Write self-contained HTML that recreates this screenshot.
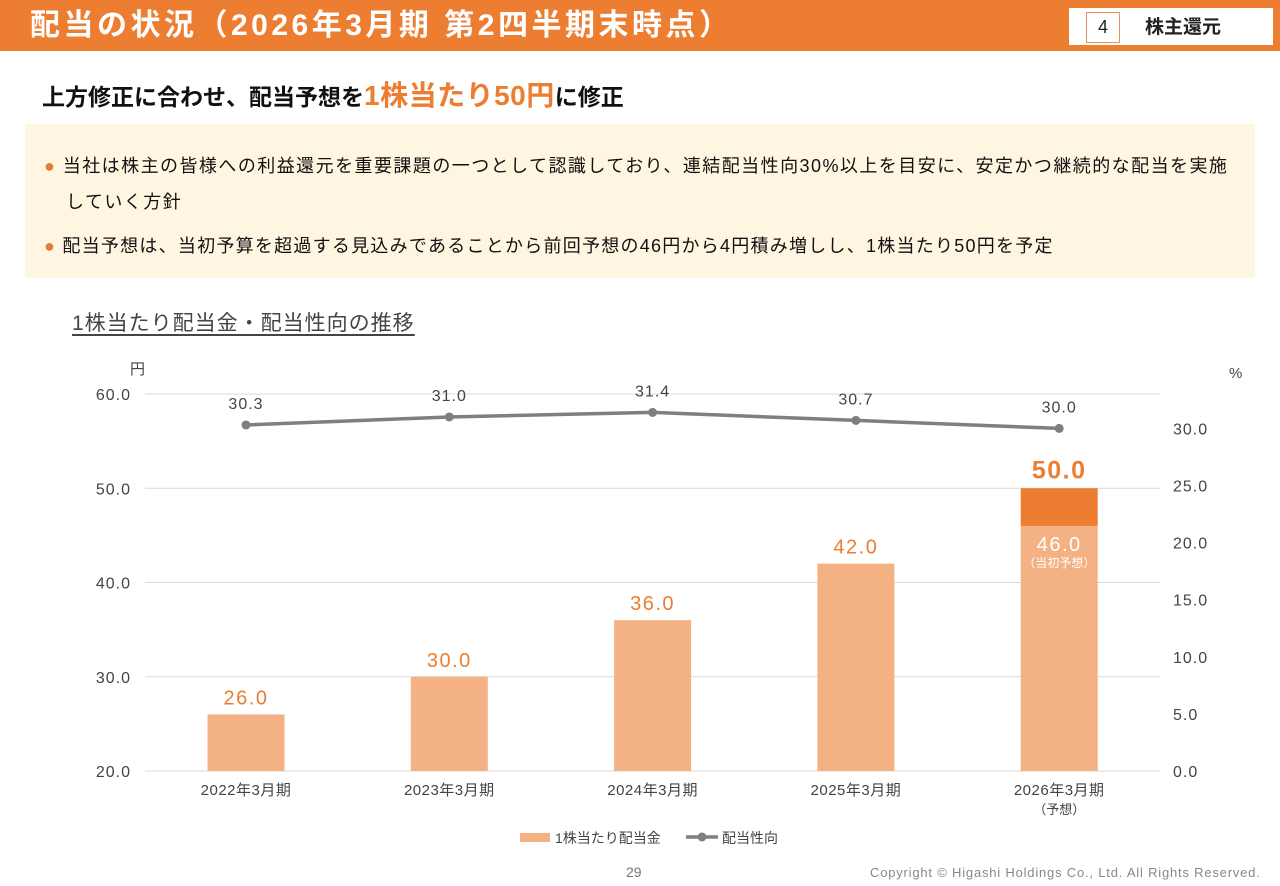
<!DOCTYPE html>
<html><head><meta charset="utf-8"><style>
body{margin:0;width:1280px;height:886px;background:#fff;font-family:"Liberation Sans","Noto Sans CJK JP",sans-serif;position:relative;overflow:hidden}
.abs{position:absolute}
</style></head><body>
<div class="abs" style="left:0;top:0;width:1280px;height:51px;background:#ed7d31"></div>
<div class="abs" style="left:30px;top:6px;color:#fff;font-size:30px;font-weight:bold;line-height:40px;letter-spacing:3.5px">配当の状況（2026年3月期 第2四半期末時点）</div>
<div class="abs" style="left:1069px;top:8px;width:204px;height:37px;background:#fff"></div>
<div class="abs" style="left:1086px;top:12px;width:32px;height:29px;border:1px solid #e69060;font-size:18px;text-align:center;line-height:29px;color:#222">4</div>
<div class="abs" style="left:1145px;top:14px;font-size:19px;font-weight:bold;color:#222;line-height:28px">株主還元</div>
<div class="abs" style="left:42px;top:78px;font-size:23px;font-weight:bold;color:#111;line-height:36px">上方修正に合わせ、配当予想を<span style="color:#ed7d31;font-size:28px;letter-spacing:0.5px">1株当たり50円</span>に修正</div>
<div class="abs" style="left:25px;top:124px;width:1230px;height:154px;background:#fff6e2"></div>
<div class="abs" style="left:44px;top:148px;width:1200px;font-size:18px;line-height:36px;color:#111;letter-spacing:1.45px;white-space:nowrap"><span style="color:#e07b39;font-size:18px">●</span> 当社は株主の皆様への利益還元を重要課題の一つとして認識しており、連結配当性向30%以上を目安に、安定かつ継続的な配当を実施<br><span style="padding-left:22px">していく方針</span></div>
<div class="abs" style="left:44px;top:228px;font-size:18px;line-height:36px;color:#111;letter-spacing:1.25px;white-space:nowrap"><span style="color:#e07b39;font-size:18px">●</span> 配当予想は、当初予算を超過する見込みであることから前回予想の46円から4円積み増しし、1株当たり50円を予定</div>
<div class="abs" style="left:72px;top:310px;font-size:21px;color:#444;text-decoration:underline;text-underline-offset:4px;line-height:28px;letter-spacing:1px">1株当たり配当金・配当性向の推移</div>
<svg class="abs" style="left:0;top:0" width="1280" height="886" id="chart"></svg>
<div class="abs" style="left:626px;top:864px;font-size:14px;color:#777">29</div>
<div class="abs" style="left:870px;top:865px;font-size:13px;color:#888;letter-spacing:0.8px">Copyright © Higashi Holdings Co., Ltd. All Rights Reserved.</div>
<script>
const categories=["2022年3月期","2023年3月期","2024年3月期","2025年3月期","2026年3月期"];
const dividends=[26.0,30.0,36.0,42.0,46.0];
const dividendExtra=[0,0,0,0,4.0];
const payoutRatio=[30.3,31.0,31.4,30.7,30.0];
const leftTicks=[20,30,40,50,60];
const rightTicks=[0,5,10,15,20,25,30];
const NS="http://www.w3.org/2000/svg";
const svg=document.getElementById('chart');
const yL=v=>771-(v-20)*9.425;
const yR=v=>771-v*11.42;
const xC=i=>246+i*203.3;
function mk(t,a,txt){const e=document.createElementNS(NS,t);for(const k in a)e.setAttribute(k,a[k]);if(txt!==undefined)e.textContent=txt;svg.appendChild(e);return e;}
const F='"Liberation Sans","Noto Sans CJK JP",sans-serif';
leftTicks.forEach(v=>{
 const l=mk('line',{x1:145,x2:1160,y1:yL(v),y2:yL(v),stroke:'#d9d9d9','stroke-width':1});
 
 const t=mk('text',{x:131,y:yL(v)+6,'text-anchor':'end','font-size':16,fill:'#444','font-family':F,'letter-spacing':1},v.toFixed(1));
 
});
rightTicks.forEach(v=>{
 const t=mk('text',{x:1173,y:yR(v)+6,'font-size':16,fill:'#444','font-family':F,'letter-spacing':1},v.toFixed(1));
 
});
let u=mk('text',{x:130,y:374,'font-size':15,fill:'#444','font-family':F},'円');
u=mk('text',{x:1229,y:378,'font-size':15,fill:'#444','font-family':F},'%');
categories.forEach((c,i)=>{
 const x=xC(i),w=77;
 const b=mk('rect',{x:x-w/2,y:yL(dividends[i]),width:w,height:771-yL(dividends[i]),fill:'#f4b183'});
 
 if(dividendExtra[i]>0){
  const top=dividends[i]+dividendExtra[i];
  const e=mk('rect',{x:x-w/2,y:yL(top),width:w,height:yL(dividends[i])-yL(top),fill:'#ed7d31'});
  
  let t=mk('text',{x:x,y:yL(top)-10,'text-anchor':'middle','font-size':25,'font-weight':'bold',fill:'#ed7d31','font-family':F,'letter-spacing':1.5},top.toFixed(1));
  
  t=mk('text',{x:x,y:yL(dividends[i])+25,'text-anchor':'middle','font-size':20,fill:'#fff','font-family':F,'letter-spacing':1.5},dividends[i].toFixed(1));
  
  t=mk('text',{x:x,y:yL(dividends[i])+41,'text-anchor':'middle','font-size':12,fill:'#fff','font-family':F},'（当初予想）');
  
 }else{
  const t=mk('text',{x:x,y:yL(dividends[i])-10,'text-anchor':'middle','font-size':20,fill:'#ed7d31','font-family':F,'letter-spacing':1.5},dividends[i].toFixed(1));
  
 }
 const t=mk('text',{x:x,y:795,'text-anchor':'middle','font-size':15,fill:'#444','font-family':F,'letter-spacing':0.5},c);
 
});
let t=mk('text',{x:xC(4),y:814,'text-anchor':'middle','font-size':13,fill:'#444','font-family':F},'（予想）');

const pl=mk('polyline',{points:payoutRatio.map((v,i)=>xC(i)+','+yR(v)).join(' '),fill:'none',stroke:'#7f7f7f','stroke-width':3.5});

payoutRatio.forEach((v,i)=>{
 const c=mk('circle',{cx:xC(i),cy:yR(v),r:4.5,fill:'#7f7f7f'});
 
 const l=mk('text',{x:xC(i),y:yR(v)-16,'text-anchor':'middle','font-size':16,fill:'#444','font-family':F,'letter-spacing':1},v.toFixed(1));
 
});
let r=mk('rect',{x:520,y:833,width:30,height:9,fill:'#f4b183'});
t=mk('text',{x:555,y:843,'font-size':14,fill:'#444','font-family':F},'1株当たり配当金');
r=mk('line',{x1:686,x2:718,y1:837,y2:837,stroke:'#7f7f7f','stroke-width':3.5});
r=mk('circle',{cx:702,cy:837,r:4.5,fill:'#7f7f7f'});
t=mk('text',{x:722,y:843,'font-size':14,fill:'#444','font-family':F},'配当性向');
</script>
</body></html>
